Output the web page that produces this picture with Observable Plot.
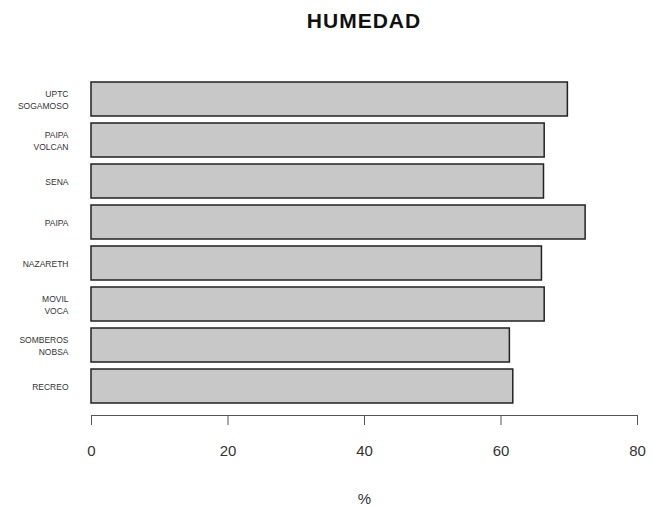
<!DOCTYPE html>
<html><head><meta charset="utf-8">
<script src="https://cdn.jsdelivr.net/npm/d3@7"></script>
<script src="https://cdn.jsdelivr.net/npm/@observablehq/plot@0.6"></script>
<style>
body{margin:0;background:#fff;}
#title{height:50px;width:652px;position:relative;font-family:"Liberation Sans",Arial,sans-serif;}
#title span{position:absolute;left:364px;top:9px;transform:translateX(-50%);font-weight:bold;font-size:21px;letter-spacing:1px;color:#111;}
</style>
</head><body>
<div id="title"><span>HUMEDAD</span></div>
<div id="chart"></div>
<script>
const stations = ["UPTC\nSOGAMOSO","PAIPA\nVOLCAN","SENA","PAIPA","NAZARETH","MOVIL\nVOCA","SOMBEROS\nNOBSA","RECREO"];
const humidity = [69.8, 66.4, 66.3, 72.4, 66.0, 66.4, 61.3, 61.8];
const xTicks = [0, 20, 40, 60, 80];
const data = stations.map((s,i)=>({station:s, value:humidity[i]}));

const plot = Plot.plot({
  width: 652, height: 456,
  marginLeft: 91, marginRight: 15, marginTop: 25, marginBottom: 91,
  style: {fontFamily: '"Liberation Sans", Arial, sans-serif', background: "#fff", color: "#333"},
  x: {domain: [0, 80]},
  y: {domain: stations, padding: 0.16, insetBottom: 5},
  marks: [
    Plot.barX(data, {y: "station", x: "value", fill: "#c8c8c8", stroke: "#222", strokeWidth: 1.5}),
    Plot.frame({anchor: "bottom", stroke: "#555"}),
    Plot.axisX({ticks: xTicks, tickSize: 10, tickPadding: 20, fontSize: 15, stroke: "#555", label: "%", labelAnchor: "center", labelOffset: 88, labelArrow: "none"}),
    Plot.axisY({tickSize: 0, tickPadding: 23, fontSize: 8.5, label: null, lineHeight: 1.4, letterSpacing: 0.6})
  ]
});
document.getElementById("chart").appendChild(plot);
</script>
</body></html>
